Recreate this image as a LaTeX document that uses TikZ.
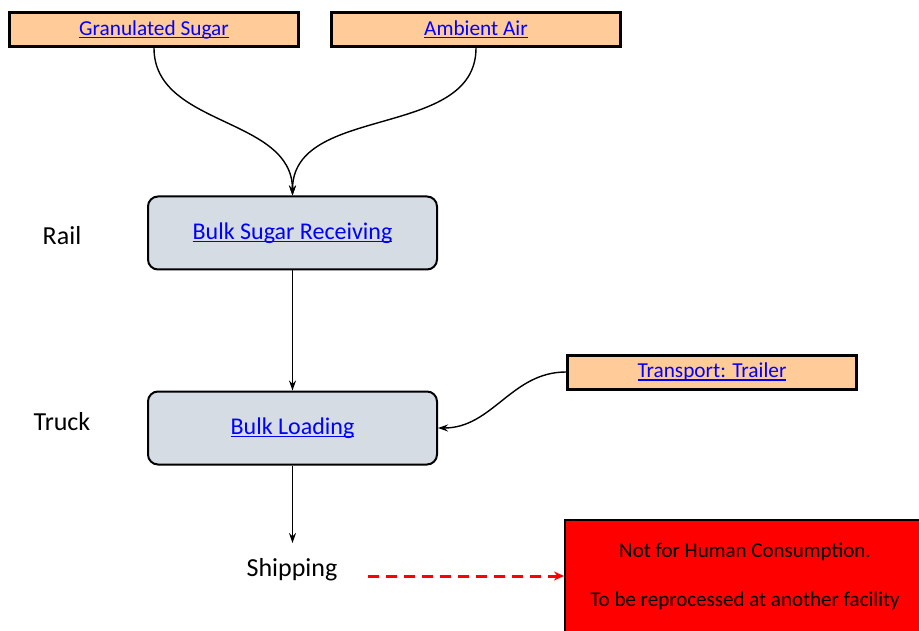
\documentclass[tikz,border=0pt]{standalone}
\usepackage{fontspec}
\setmainfont{Carlito}
\usetikzlibrary{arrows.meta}
\definecolor{peach}{RGB}{255,204,153}
\definecolor{bluegray}{RGB}{214,220,228}
\definecolor{linkblue}{RGB}{0,0,255}
\definecolor{alertred}{RGB}{255,0,0}
\newcommand{\lnk}[1]{\textcolor{linkblue}{\setbox0\hbox{#1}\rlap{\rule[-3pt]{\wd0}{1.5pt}}\box0}}

\begin{document}
\begin{tikzpicture}[x=1pt, y=-1pt,
	input/.style = {draw, line width=3pt, fill=peach, minimum width=289pt, minimum height=34pt, inner sep=0pt, font=\fontsize{21.3}{25}\selectfont},
	process/.style = {draw, line width=2pt, rounded corners=10pt, fill=bluegray, minimum width=289pt, minimum height=73pt, inner sep=0pt, font=\fontsize{24}{28}\selectfont},
	side/.style = {inner sep=0pt, font=\fontsize{26}{30}\selectfont},
	flow/.style = {-{Stealth[length=10pt, width=7pt]}, line width=1.4pt}]
			\useasboundingbox (0,0) rectangle (919,631);
			\node (gsug) at (154,29.5) [input] {\lnk{Granulated Sugar}};
			\node (air) at (476,29.5) [input] {\lnk{Ambient Air}};
			\node (recv) at (292.5,233) [process] {\lnk{Bulk Sugar Receiving}};
			\node (load) at (292.5,428) [process] {\lnk{Bulk Loading}};
			\node (trail) at (712,372) [input] {\lnk{Transport: Trailer}};
			\node (rail) at (62,236) [side] {Rail};
			\node (truck) at (62,422) [side] {Truck};
			\node (ship) at (292,570) [side] {Shipping};
			\node (nohc) at (745,576) [draw, line width=2pt, fill=alertred, minimum width=360pt, minimum height=112pt, align=center, font=\fontsize{21}{25}\selectfont] {Not for Human Consumption.\\[24pt]To be reprocessed at another facility};
			\coordinate (shiptop) at (292.5,543);
			\coordinate (dashstart) at (368,576);
			\draw[flow] (gsug.south) to[out=-90, in=90] (recv.north);
			\draw[flow] (air.south) to[out=-90, in=90] (recv.north);
			\draw[flow] (recv.south) -- (load.north);
			\draw[flow] (trail.west) to[out=180, in=0] (load.east);
			\draw[flow] (load.south) -- (shiptop);
			\draw[-{Stealth[length=10pt, width=9pt]}, alertred, line width=3pt, dash pattern=on 11pt off 7pt] (dashstart) -- (nohc.west);
			\end{tikzpicture}
\end{document}
